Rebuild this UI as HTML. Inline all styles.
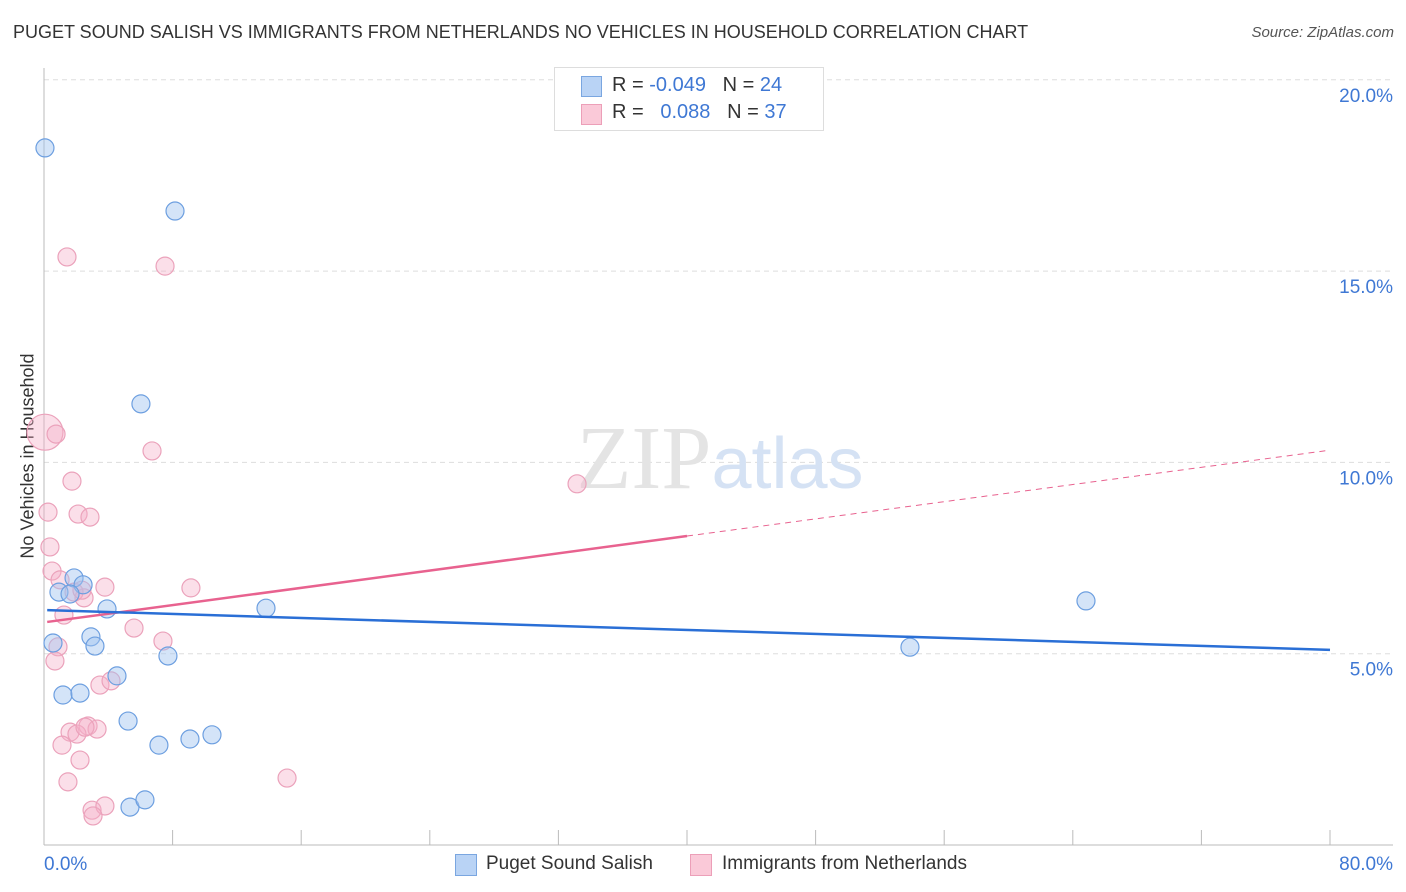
<!DOCTYPE html>
<html><head><meta charset="utf-8"><style>
body{margin:0;background:#fff;font-family:"Liberation Sans",sans-serif;}
#wrap{position:relative;width:1406px;height:892px;overflow:hidden;}
.t{position:absolute;white-space:nowrap;}
</style></head><body>
<div id="wrap">
<div class="t" style="left:13px;top:22px;font-size:18px;color:#333;">PUGET SOUND SALISH VS IMMIGRANTS FROM NETHERLANDS NO VEHICLES IN HOUSEHOLD CORRELATION CHART</div>
<div class="t" style="right:12px;top:24px;font-size:15px;color:#555;font-style:italic;">Source: ZipAtlas.com</div>
<div class="t" style="left:28px;top:456px;font-size:18px;color:#333;transform:translate(-50%,-50%) rotate(-90deg);">No Vehicles in Household</div>
<svg id="svg" width="1406" height="892" style="position:absolute;left:0;top:0"></svg>
<div style="position:absolute;left:554px;top:67px;width:268px;height:62px;border:1px solid #ddd;background:#fff;">
 <div style="position:absolute;left:26px;top:8px;width:19px;height:19px;background:#b9d3f5;border:1px solid #7aa6e0;"></div>
 <div class="t" style="left:57px;top:6px;font-size:20px;color:#333;">R = <span style="color:#3f78d4">-0.049</span>&nbsp;&nbsp;&nbsp;N = <span style="color:#3f78d4">24</span></div>
 <div style="position:absolute;left:26px;top:36px;width:19px;height:19px;background:#fac9d8;border:1px solid #ec9fb8;"></div>
 <div class="t" style="left:57px;top:33px;font-size:20px;color:#333;">R = &nbsp;&nbsp;<span style="color:#3f78d4">0.088</span>&nbsp;&nbsp;&nbsp;N = <span style="color:#3f78d4">37</span></div>
</div>
<div style="position:absolute;left:455px;top:853px;">
 <div style="position:absolute;left:0;top:1px;width:20px;height:20px;background:#b9d3f5;border:1px solid #7aa6e0;"></div>
 <div class="t" style="left:31px;top:0;font-size:19px;color:#333;">Puget Sound Salish</div></div>
<div style="position:absolute;left:690px;top:853px;">
 <div style="position:absolute;left:0;top:1px;width:20px;height:20px;background:#fac9d8;border:1px solid #ec9fb8;"></div>
 <div class="t" style="left:32px;top:0;font-size:19px;color:#333;">Immigrants from Netherlands</div></div>
</div>
<script>
const yTicks=[5,10,15,20];
const yTickLabels=["5.0%","10.0%","15.0%","20.0%"];
const xTickLabels=["0.0%","80.0%"];
const blueX=[0.06,8.15,6.03,1.87,2.43,0.93,1.62,3.92,13.81,64.82,53.87,0.56,2.92,3.17,7.71,4.54,1.18,2.24,5.23,7.15,9.08,10.45,5.35,6.28];
const blueY=[18.22,16.57,11.53,6.98,6.80,6.61,6.56,6.17,6.19,6.38,5.17,5.28,5.44,5.20,4.94,4.42,3.92,3.97,3.24,2.61,2.77,2.88,0.99,1.18];
const pinkX=[0.06,0.75,1.43,7.53,6.72,1.74,0.25,2.12,2.86,33.16,0.37,0.50,1.00,3.79,9.14,2.49,1.24,5.60,0.87,7.40,0.68,3.48,4.17,2.74,3.30,1.62,2.05,1.12,2.24,1.49,15.12,2.99,3.79,3.05,1.87,2.55,2.36];
const pinkY=[10.79,10.74,15.37,15.13,10.30,9.51,8.70,8.65,8.57,9.44,7.79,7.16,6.93,6.74,6.72,6.46,6.01,5.67,5.18,5.33,4.81,4.18,4.29,3.11,3.03,2.95,2.90,2.61,2.22,1.65,1.75,0.91,1.02,0.76,6.61,3.08,6.66];
const blueTrend=[6.14,5.10];
const pinkTrend=[5.83,10.32];
const NS="http://www.w3.org/2000/svg";
const svg=document.getElementById('svg');
const X=v=>44+v*16.075, Y=v=>845-v*38.26;
function mk(tag,at){const e=document.createElementNS(NS,tag);for(const k in at)e.setAttribute(k,at[k]);svg.appendChild(e);return e;}
yTicks.forEach((t,i)=>{
 const g=mk('line',{x1:44,x2:1393,y1:Y(t),y2:Y(t),stroke:'#ddd','stroke-dasharray':'5,4'});
 
 
 const tx=mk('text',{x:1393,y:Y(t)+22,'text-anchor':'end','font-size':19,fill:'#3f78d4','font-family':'Liberation Sans'});
 tx.textContent=yTickLabels[i];
 
 
});
const ax=mk('line',{x1:44,x2:44,y1:68,y2:845,stroke:'#bbb'});


const bx=mk('line',{x1:44,x2:1393,y1:845,y2:845,stroke:'#bbb'});


for(let i=0;i<=10;i++){const t=mk('line',{x1:X(i*8),x2:X(i*8),y1:830,y2:845,stroke:'#bbb'});
 
 }
[[0,'start',44],[80,'end',1393]].forEach((a,i)=>{const t=mk('text',{x:a[2],y:870,'text-anchor':a[1],'font-size':19,fill:'#3f78d4','font-family':'Liberation Sans'});t.textContent=xTickLabels[i];
 
 });
const wm=mk('text',{x:720,y:488,'text-anchor':'middle','font-size':90,fill:'#e4e4e4','font-family':'Liberation Serif'});
wm.innerHTML='ZIP<tspan font-family="Liberation Sans" fill="#d5e2f4" font-size="72">atlas</tspan>';


pinkX.forEach((x,i)=>{const c=mk('circle',{cx:X(x),cy:Y(pinkY[i]),r:i==0?18:9,fill:'rgba(246,175,199,0.4)',stroke:'#eba2bb','stroke-width':1.2});
 
 });
blueX.forEach((x,i)=>{const c=mk('circle',{cx:X(x),cy:Y(blueY[i]),r:9,fill:'rgba(160,196,240,0.45)',stroke:'#6d9fe0','stroke-width':1.2});
 
 });
const pm=pinkTrend[0]+(pinkTrend[1]-pinkTrend[0])*0.5;
const p1=mk('line',{x1:X(0.2),y1:Y(pinkTrend[0]),x2:X(40),y2:Y(pm),stroke:'#e8628f','stroke-width':2.5});


const p2=mk('line',{x1:X(40),y1:Y(pm),x2:X(80),y2:Y(pinkTrend[1]),stroke:'#e8628f','stroke-width':1,'stroke-dasharray':'6,5'});


const b1=mk('line',{x1:X(0.2),y1:Y(blueTrend[0]),x2:X(80),y2:Y(blueTrend[1]),stroke:'#2a6fd6','stroke-width':2.5});


</script>
</body></html>
